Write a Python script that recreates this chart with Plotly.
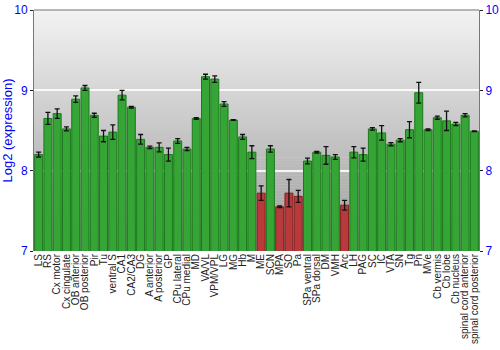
import plotly.graph_objects as go

regions = ["LS", "RS", "Cx motor", "Cx cingulate", "OB anterior", "OB posterior", "Pir", "Tu",
           "ventral S", "CA1", "CA2/CA3", "DG", "A anterior", "A posterior", "GP", "CPu lateral",
           "CPu medial", "MD", "VA/VL", "VPM/VPL", "LG", "MG", "Hb", "M", "ME", "SCN", "MPA", "SO",
           "Pa", "SPa ventral", "SPa dorsal", "DM", "VMH", "Arc", "LH", "PAG", "SC", "IC", "VTA",
           "SN", "Tg", "Pn", "MVe", "Cb vermis", "Cb lobe", "Cb nucleus", "spinal cord anterior",
           "spinal cord posterior"]
expression = [8.20, 8.65, 8.71, 8.52, 8.89, 9.03, 8.69, 8.43,
              8.48, 8.94, 8.79, 8.39, 8.29, 8.29, 8.20, 8.37,
              8.27, 8.65, 9.17, 9.14, 8.83, 8.63, 8.42, 8.23, 7.72, 8.27, 7.55, 7.72,
              7.68, 8.12, 8.23, 8.19, 8.17, 7.57, 8.23, 8.20, 8.52, 8.47, 8.33,
              8.38, 8.51, 8.97, 8.51, 8.66, 8.62, 8.58, 8.69,
              8.49]
error = [0.03, 0.075, 0.06, 0.025, 0.04, 0.03, 0.025, 0.07,
         0.09, 0.06, 0.01, 0.06, 0.015, 0.055, 0.08, 0.03,
         0.02, 0.01, 0.03, 0.04, 0.03, 0.005, 0.03, 0.08, 0.09, 0.04, 0.01, 0.17,
         0.075, 0.035, 0.01, 0.11, 0.03, 0.06, 0.07, 0.08, 0.015, 0.09, 0.02,
         0.02, 0.1, 0.13, 0.01, 0.02, 0.12, 0.02, 0.02,
         0.005]
low_regions = ["ME", "MPA", "SO", "Pa", "Arc"]

fill = ["#b83a3a" if r in low_regions else "#35a535" for r in regions]
edge = ["#7e2020" if r in low_regions else "#1d781d" for r in regions]

fig = go.Figure()
fig.add_trace(go.Bar(
    x=regions, y=expression,
    marker=dict(color=fill, line=dict(color=edge, width=1)),
    error_y=dict(type="data", array=error, color="#111111", thickness=1.3, width=2.5),
    hoverinfo="skip", showlegend=False,
))
# empty trace so the mirrored right-hand axis is rendered
fig.add_trace(go.Scatter(x=[], y=[], yaxis="y2", showlegend=False, hoverinfo="skip"))

# vertical grey gradient background
N = 80
shapes = []
top = (243, 243, 243)
bot = (155, 155, 155)
for i in range(N):
    t = (i + 0.5) / N
    c = tuple(int(round(bot[k] + (top[k] - bot[k]) * t)) for k in range(3))
    shapes.append(dict(type="rect", xref="paper", yref="paper", x0=0, x1=1,
                       y0=i / N, y1=(i + 1) / N + 0.002, layer="below",
                       fillcolor="rgb(%d,%d,%d)" % c, line=dict(width=0)))

tick_vals = [7, 8, 9, 10]
fig.update_layout(
    width=500, height=350,
    margin=dict(l=34, r=21, t=10, b=99),
    paper_bgcolor="white", plot_bgcolor="rgba(0,0,0,0)",
    bargap=0.14,
    shapes=shapes,
    font=dict(family="Liberation Sans, Arial, sans-serif"),
    xaxis=dict(tickangle=-90, tickfont=dict(size=10, color="#222222"),
               tickmode="array", tickvals=regions, ticktext=regions,
               showgrid=False, showline=False, ticks="", automargin=False),
    yaxis=dict(range=[7, 10], tickvals=tick_vals, showgrid=True,
               gridcolor="rgba(255,255,255,0.85)", gridwidth=2,
               zeroline=False, showline=True, linecolor="#777777", linewidth=1,
               ticks="outside", ticklen=3, tickcolor="#222222",
               tickfont=dict(size=12, color="#0000ff"),
               title=dict(text="Log2 (expression)", font=dict(size=13, color="#0000ff"), standoff=4),
               automargin=False),
    yaxis2=dict(range=[7, 10], tickvals=tick_vals, overlaying="y", side="right",
                showgrid=False, zeroline=False, showline=True, linecolor="#777777",
                ticks="outside", ticklen=3, tickcolor="#222222",
                tickfont=dict(size=12, color="#0000ff"), automargin=False),
)
fig.add_shape(type="line", xref="paper", yref="paper", x0=0, x1=1, y0=1, y1=1,
              line=dict(color="#777777", width=1), layer="above")
fig.write_html("out.html")
